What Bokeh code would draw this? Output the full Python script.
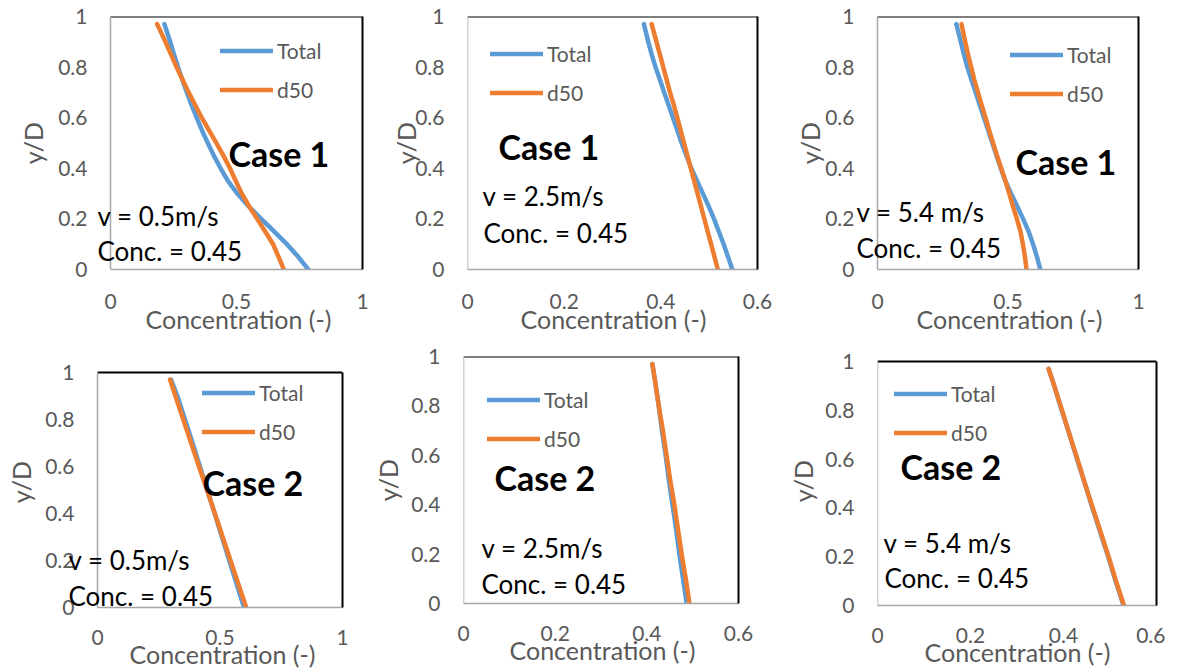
from bokeh.plotting import figure
from bokeh.models import (Range1d, FixedTicker, NumeralTickFormatter, Legend,
                          LegendItem, Label, LinearAxis, Title)
from bokeh.layouts import column, row
from bokeh.embed import file_html
from bokeh.resources import INLINE

# ---------------- data ----------------
y_fine = [0.0, 0.05, 0.1, 0.15, 0.2, 0.25, 0.3, 0.35, 0.4, 0.45, 0.5,
          0.55, 0.6, 0.65, 0.7, 0.75, 0.8, 0.85, 0.9, 0.97]
y_coarse = [0.0, 0.1, 0.2, 0.3, 0.4, 0.5, 0.6, 0.7, 0.8, 0.9, 0.97]

case1_v05_total = [0.785, 0.745, 0.700, 0.650, 0.598, 0.548, 0.503, 0.466, 0.437, 0.410,
                   0.386, 0.363, 0.342, 0.322, 0.303, 0.285, 0.268, 0.252, 0.237, 0.214]
case1_v05_d50 = [0.688, 0.667, 0.645, 0.614, 0.582, 0.550, 0.521, 0.497, 0.474, 0.448,
                 0.420, 0.391, 0.362, 0.336, 0.310, 0.286, 0.262, 0.240, 0.218, 0.185]

case1_v25_total = [0.548, 0.539, 0.530, 0.520, 0.510, 0.499, 0.487, 0.475, 0.463, 0.453,
                   0.443, 0.434, 0.425, 0.416, 0.407, 0.398, 0.389, 0.381, 0.374, 0.365]
case1_v25_d50 = [0.518, 0.511, 0.504, 0.497, 0.490, 0.483, 0.476, 0.469, 0.462, 0.455,
                 0.448, 0.441, 0.434, 0.427, 0.419, 0.412, 0.405, 0.398, 0.391, 0.381]

case1_v54_total = [0.624, 0.611, 0.596, 0.579, 0.558, 0.535, 0.512, 0.490, 0.472, 0.456,
                   0.440, 0.424, 0.408, 0.392, 0.376, 0.360, 0.344, 0.331, 0.319, 0.302]
case1_v54_d50 = [0.571, 0.565, 0.557, 0.548, 0.534, 0.519, 0.505, 0.490, 0.474, 0.458,
                 0.443, 0.428, 0.414, 0.399, 0.385, 0.371, 0.359, 0.347, 0.336, 0.322]

case2_v05_total = [0.598, 0.568, 0.538, 0.508, 0.478, 0.448, 0.418, 0.388, 0.357, 0.326, 0.300]
case2_v05_d50 = [0.607, 0.575, 0.543, 0.511, 0.479, 0.447, 0.414, 0.382, 0.350, 0.318, 0.296]

case2_v25_total = [0.487, 0.479, 0.471, 0.464, 0.456, 0.448, 0.441, 0.433, 0.426, 0.418, 0.412]
case2_v25_d50 = [0.493, 0.485, 0.476, 0.468, 0.460, 0.451, 0.443, 0.435, 0.426, 0.418, 0.412]

case2_v54_total = [0.529, 0.512, 0.496, 0.479, 0.462, 0.446, 0.429, 0.413, 0.396, 0.380, 0.368]
case2_v54_d50 = [0.530, 0.513, 0.497, 0.480, 0.463, 0.446, 0.430, 0.413, 0.397, 0.380, 0.368]

series_names = ["Total", "d50"]
case_titles = ["Case 1", "Case 1", "Case 1", "Case 2", "Case 2", "Case 2"]
speed_texts = ["v = 0.5m/s", "v = 2.5m/s", "v = 5.4 m/s", "v = 0.5m/s", "v = 2.5m/s", "v = 5.4 m/s"]
conc_text = "Conc. = 0.45"
x_ticks_1 = [0, 0.5, 1]
x_ticks_06 = [0, 0.2, 0.4, 0.6]
y_ticks = [0, 0.2, 0.4, 0.6, 0.8, 1]
x_title = "Concentration (-)"
y_title = "y/D"

# ---------------- styling / layout constants ----------------
FONT = "Lato"
BLUE = "#5b9bd5"
ORANGE = "#ed7d31"
GREY_TXT = "#595959"
AXIS_GREY = "#a6a6a6"
TICK_FS = 21
TITLE_FS = 25
LEG_FS = 21
CASE_FS = 34
NOTE_FS = 26
ITEM_H = 25
LEG_SPACING = 14
BASE_K = 0.36      # baseline correction (fraction of font size)


def edge_axis(**kw):
    return LinearAxis(ticker=FixedTicker(ticks=[]), major_tick_out=0, major_tick_in=0,
                      minor_tick_out=0, minor_tick_in=0, major_label_standoff=0,
                      major_label_text_font_size="0px", axis_label_standoff=0, **kw)


def panel(L, ys, total, d50, title, speed):
    x0, x1, y1, yb, a = L["x0"], L["x1"], L["y1"], L["yb"], L["a"]
    xmax = L["xmax"]
    sx = (x1 - x0) / xmax
    sy = (yb - y1)
    fl = x0 - a
    fw = x1 - fl
    fh = yb - L["ftop"]
    p = figure(frame_width=fw, frame_height=fh,
               min_border_left=fl - L["fig_l"], min_border_right=L["fig_r"] - x1,
               min_border_top=L["ftop"] - L["row_top"], min_border_bottom=L["bb"],
               x_range=Range1d(-a / sx, xmax), y_range=Range1d(0, fh / sy),
               output_backend="svg", toolbar_location=None, tools="")
    p.outline_line_color = None
    p.grid.visible = False
    p.background_fill_color = "white"
    p.border_fill_color = "white"

    for ax, ticks in ((p.xaxis[0], L["xticks"]), (p.yaxis[0], y_ticks)):
        ax.ticker = FixedTicker(ticks=ticks)
        ax.formatter = NumeralTickFormatter(format="0.[0]")
        ax.major_tick_out = 0
        ax.major_tick_in = 0
        ax.minor_tick_out = 0
        ax.minor_tick_in = 0
        ax.major_label_text_font = FONT
        ax.major_label_text_font_size = f"{TICK_FS}px"
        ax.major_label_text_color = GREY_TXT
        ax.axis_label_text_font = FONT
        ax.axis_label_text_font_size = f"{TITLE_FS}px"
        ax.axis_label_text_font_style = "normal"
        ax.axis_label_text_color = GREY_TXT

    xa = p.xaxis[0]
    xa.bounds = (0, xmax)
    xa.axis_line_color = AXIS_GREY
    xa.axis_line_width = 1.5
    xa.major_label_standoff = L["xs1"]

    # x-axis title, placed under the axis so that it is centred on the 0..xmax span
    p.add_layout(Title(text=x_title, align="left", offset=L["xt_left"] - fl,
                       standoff=L["xt_std"], text_font=FONT, text_font_size=f"{TITLE_FS}px",
                       text_font_style="normal", text_color=GREY_TXT), "below")

    ya = p.yaxis[0]
    ya.axis_label = y_title
    ya.bounds = (0, 1)
    ya.axis_line_color = None
    ya.major_label_standoff = 23 - a
    ya.axis_label_standoff = L["ys2"]

    # frame edges: grey line at x = 0, black lines at y = 1 and x = xmax
    p.add_layout(edge_axis(fixed_location=0, bounds=(0, 1), axis_line_color=AXIS_GREY,
                           axis_line_width=1.5), "left")
    p.add_layout(edge_axis(fixed_location=1, bounds=(0, xmax), axis_line_color="black",
                           axis_line_width=2), "above")
    p.add_layout(edge_axis(bounds=(0, 1), axis_line_color="black", axis_line_width=2), "right")

    rt = p.line(y=ys, x=total, line_color=BLUE, line_width=4.5, line_cap="round", line_join="round")
    rd = p.line(y=ys, x=d50, line_color=ORANGE, line_width=4.5, line_cap="round", line_join="round")

    leg_h = 2 * ITEM_H + LEG_SPACING
    ly = yb - (L["leg_row1"] - ITEM_H / 2) - leg_h
    legend = Legend(items=[LegendItem(label=series_names[0], renderers=[rt]),
                           LegendItem(label=series_names[1], renderers=[rd])],
                    location=(L["leg_x"] - fl, ly), orientation="vertical",
                    label_text_font=FONT, label_text_font_size=f"{LEG_FS}px",
                    label_text_color=GREY_TXT, glyph_width=53, glyph_height=ITEM_H,
                    label_height=ITEM_H, label_standoff=4, spacing=LEG_SPACING,
                    padding=0, margin=0, border_line_alpha=0,
                    background_fill_alpha=0)
    p.add_layout(legend)

    def add_text(pos, text, fs, style):
        px, py = pos
        py = py - BASE_K * fs
        p.add_layout(Label(x=(px - x0) / sx, y=(yb - py) / sy, text=text, text_font=FONT,
                           text_font_size=f"{fs}px", text_font_style=style,
                           text_color="black", text_baseline="alphabetic"))

    add_text(L["t_case"], title, CASE_FS, "bold")
    add_text(L["t_v"], speed, NOTE_FS, "normal")
    add_text(L["t_c"], conc_text, NOTE_FS, "normal")
    return p


TOP = dict(row_top=0, ftop=16, y1=16, yb=269, bb=71, xs1=24, xt_std=-19)
BOT = dict(row_top=340, ftop=356, bb=61, xs1=22, xt_std=-22)

L1 = dict(TOP, x0=110, x1=362, a=15, xmax=1, xticks=x_ticks_1, fig_l=0, fig_r=385, ys2=7,
          xt_left=145, leg_x=220, leg_row1=50,
          t_case=(228, 165), t_v=(97, 225), t_c=(97, 260))
L2 = dict(TOP, x0=467, x1=757, a=0, xmax=0.6, xticks=x_ticks_06, fig_l=385, fig_r=788, ys2=-9,
          xt_left=520, leg_x=490, leg_row1=53,
          t_case=(498, 158), t_v=(482, 205), t_c=(483, 242))
L3 = dict(TOP, x0=877, x1=1138, a=23, xmax=1, xticks=x_ticks_1, fig_l=788, fig_r=1165, ys2=-3,
          xt_left=916, leg_x=1010, leg_row1=54,
          t_case=(1015, 173), t_v=(856, 221), t_c=(856, 257))
L4 = dict(BOT, x0=97, x1=342, y1=372, yb=607, a=31, xmax=1, xticks=x_ticks_1, fig_l=0, fig_r=368,
          ys2=6, xt_left=129, leg_x=202, leg_row1=392,
          t_case=(202, 494), t_v=(68, 569), t_c=(68, 605))
L5 = dict(BOT, x0=463, x1=738, y1=356, yb=603, a=0, xmax=0.6, xticks=x_ticks_06, fig_l=368,
          fig_r=780, ys2=5, xt_left=509, leg_x=487, leg_row1=399,
          t_case=(494, 489), t_v=(481, 557), t_c=(481, 593))
L6 = dict(BOT, x0=877, x1=1156, y1=361, yb=605, a=0, xmax=0.6, xticks=x_ticks_06, fig_l=780,
          fig_r=1165, ys2=4, xt_left=924, leg_x=894, leg_row1=393,
          t_case=(900, 478), t_v=(883, 552), t_c=(884, 587))

p1 = panel(L1, y_fine, case1_v05_total, case1_v05_d50, case_titles[0], speed_texts[0])
p2 = panel(L2, y_fine, case1_v25_total, case1_v25_d50, case_titles[1], speed_texts[1])
p3 = panel(L3, y_fine, case1_v54_total, case1_v54_d50, case_titles[2], speed_texts[2])
p4 = panel(L4, y_coarse, case2_v05_total, case2_v05_d50, case_titles[3], speed_texts[3])
p5 = panel(L5, y_coarse, case2_v25_total, case2_v25_d50, case_titles[4], speed_texts[4])
p6 = panel(L6, y_coarse, case2_v54_total, case2_v54_d50, case_titles[5], speed_texts[5])

layout = column(row(p1, p2, p3), row(p4, p5, p6))
open("out.html", "w").write(file_html(layout, INLINE))
